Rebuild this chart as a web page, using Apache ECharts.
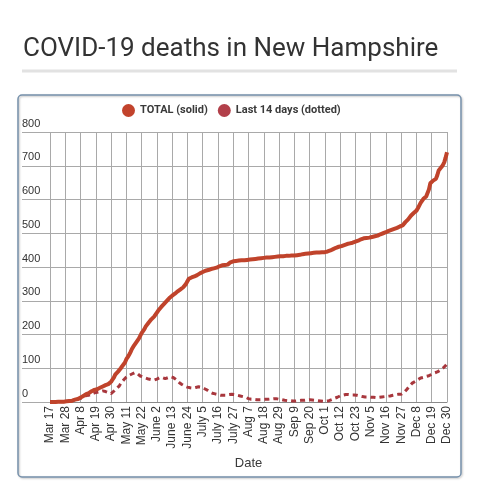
<!DOCTYPE html>
<html>
<head>
<meta charset="utf-8">
<script src="https://cdn.jsdelivr.net/npm/echarts@6/dist/echarts.min.js"></script>
<style>
html,body{margin:0;padding:0;background:#fff;}
#c{width:477px;height:500px;}
</style>
</head>
<body>
<div id="c"></div>
<script>
// Date categories: month spans (Oct 31 and Nov 1 absent from the source data)
var dateSpans = [["Mar",17,31],["Apr",1,30],["May",1,31],["June",1,30],["July",1,31],
                 ["Aug",1,31],["Sep",1,30],["Oct",1,30],["Nov",2,30],["Dec",1,30]];
var dates = [];
dateSpans.forEach(function(s){ for (var d = s[1]; d <= s[2]; d++) dates.push(s[0] + " " + d); });

// TOTAL deaths (solid)
var total = [
  0,0,0,0,0,0,1,1,1,1,
  1,2,2,3,3,4,4,5,7,8,
  9,10,13,15,18,21,23,24,26,29,
  32,34,36,37,38,41,42,44,46,48,
  50,51,53,56,60,66,72,81,86,90,
  95,100,106,111,117,127,133,140,148,157,
  164,170,175,182,188,196,204,209,216,224,
  229,235,240,245,249,253,257,265,271,275,
  281,286,290,294,299,304,308,312,315,318,
  321,324,328,331,334,337,340,345,350,358,
  365,367,369,370,372,374,376,379,381,382,
  385,387,389,390,391,392,394,395,396,397,
  398,400,402,404,405,405,406,407,407,409,
  414,415,417,418,418,418,419,419,420,420,
  420,421,421,422,422,423,423,424,424,424,
  425,425,426,426,427,427,428,428,428,429,
  429,430,430,431,431,432,432,432,432,433,
  433,433,433,434,434,434,434,434,435,435,
  436,437,438,438,439,439,440,441,441,442,
  442,443,443,443,443,444,444,444,444,445,
  446,447,449,451,453,455,457,458,460,461,
  462,464,465,466,468,469,470,471,472,474,
  475,476,478,480,482,484,485,486,486,487,
  487,488,489,490,491,492,493,495,497,499,
  500,501,503,505,507,508,510,512,513,515,
  516,518,520,521,523,527,533,537,541,545,
  552,557,560,563,567,574,582,590,596,602,
  606,609,612,630,648,651,656,658,661,672,
  686,690,696,702,710,724,740
];

// Last 14 days (dotted)
var last14 = [
  0,0,0,0,0,0,1,1,1,1,
  1,2,2,3,3,4,4,5,6,7,
  8,9,11,13,15,17,19,19,20,22,
  24,25,27,28,29,30,31,32,33,33,
  31,30,28,26,25,27,32,37,40,42,
  48,55,60,65,70,74,77,79,81,83,
  85,87,86,84,80,77,75,74,72,71,
  69,68,67,66,65,65,66,68,70,72,
  73,72,70,69,70,72,74,75,74,72,
  69,66,62,58,55,52,49,47,45,44,
  43,42,42,41,42,43,44,45,45,44,
  42,40,38,36,33,30,28,26,25,24,
  23,22,21,20,20,20,20,20,21,22,
  23,23,23,22,21,20,19,18,17,16,
  15,14,12,10,9,8,8,8,7,7,
  7,7,7,7,7,8,8,8,9,9,
  9,10,10,10,9,8,7,7,6,5,
  5,4,4,4,3,3,3,3,4,4,
  4,5,5,5,6,6,6,7,7,6,
  6,5,5,4,4,3,3,2,2,3,
  3,4,5,7,9,11,13,14,16,18,
  19,20,21,22,22,22,21,21,21,21,
  20,20,19,18,17,16,16,15,15,15,
  14,14,14,14,13,13,13,14,14,15,
  15,16,16,17,17,18,19,20,21,22,
  22,23,23,23,24,28,33,37,42,47,
  52,56,59,61,63,66,69,71,72,73,
  74,76,77,78,80,82,85,86,87,89,
  91,94,97,100,104,108,113
];

var yTicks = [0,100,200,300,400,500,600,700,800];
var seriesNames = ["TOTAL (solid)", "Last 14 days (dotted)"];

var chart = echarts.init(document.getElementById('c'), null, {renderer:'canvas'});
var gridCol = '#a9a9a9';
var txtFont = 'Liberation Sans, Arial, sans-serif';
chart.setOption({
  animation:false,
  backgroundColor:'#ffffff',
  title:{
    text:'COVID-19 deaths in New Hampshire',
    left:18, top:31,
    textStyle:{fontFamily:'Roboto', fontSize:26, fontWeight:'normal', color:'#333333'}
  },
  graphic:[
    {type:'rect', shape:{x:22, y:69.5, width:435, height:3}, style:{fill:'#e2e2e2'}, silent:true},
    {type:'rect', shape:{x:18, y:95, width:443, height:382, r:4},
     style:{fill:'none', stroke:'#7590ab', lineWidth:1.5, shadowBlur:2, shadowColor:'rgba(0,0,0,0.25)', shadowOffsetX:1, shadowOffsetY:1}, silent:true}
  ],
  legend:{
    data:seriesNames,
    top:99, left:117,
    icon:'circle', itemWidth:13, itemHeight:13, itemGap:10,
    textStyle:{fontFamily:'Roboto', fontSize:11, fontWeight:'bold', color:'#3a3a3a'}
  },
  grid:{left:50, right:30, top:132, bottom:98, containLabel:false},
  xAxis:{
    type:'category', data:dates, boundaryGap:false,
    name:'Date', nameLocation:'middle', nameGap:54,
    nameTextStyle:{fontFamily:txtFont, fontSize:13, color:'#3a3a3a'},
    axisLine:{show:true, lineStyle:{color:'#8a8a8a', width:1}},
    axisTick:{show:false},
    axisLabel:{interval:10, rotate:90, margin:4, fontFamily:txtFont, fontSize:12, color:'#333'},
    splitLine:{show:true, interval:10, lineStyle:{color:gridCol, width:1}}
  },
  yAxis:{
    type:'value', min:0, max:800, interval:100,
    axisLine:{show:false},
    axisTick:{show:true, length:28, lineStyle:{color:gridCol, width:1}},
    axisLabel:{
      margin:28, align:'left', verticalAlign:'bottom', padding:[0,0,3,0],
      fontFamily:txtFont, fontSize:11, color:'#333',
      formatter:function(v){ return yTicks.indexOf(v) >= 0 ? String(v) : ''; }
    },
    splitLine:{show:true, lineStyle:{color:gridCol, width:1}}
  },
  series:[
    {name:seriesNames[1], type:'line', data:last14, showSymbol:false, z:2,
     itemStyle:{color:'#b2404a'},
     lineStyle:{color:'#a8373d', width:3, type:[5,4]}},
    {name:seriesNames[0], type:'line', data:total, showSymbol:false, z:3,
     itemStyle:{color:'#c2432c'},
     lineStyle:{color:'#c0432b', width:4}}
  ]
});
</script>
</body>
</html>
